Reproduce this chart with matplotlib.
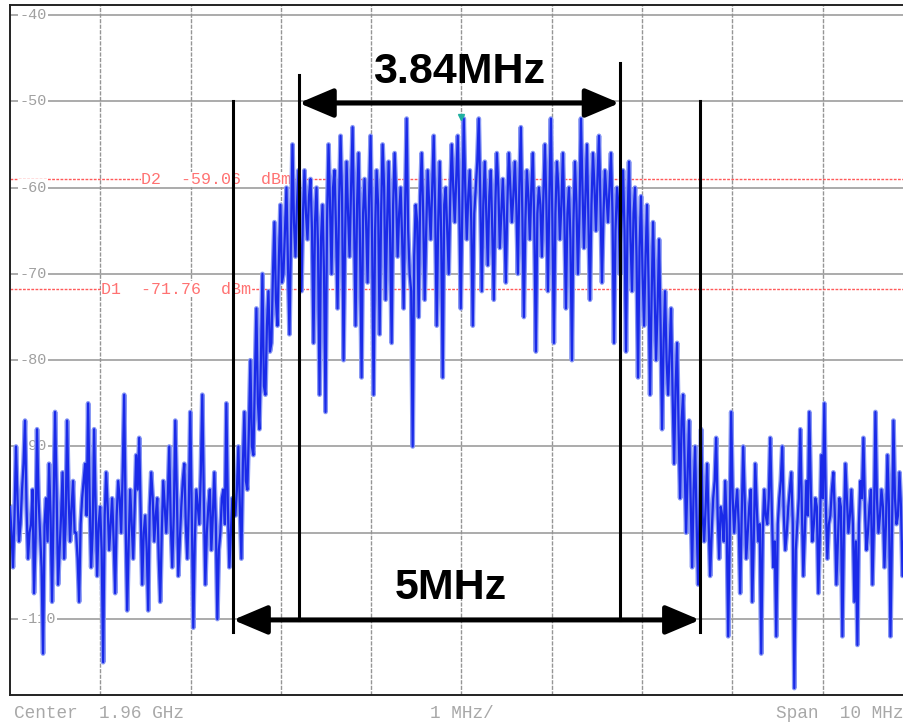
import numpy as np
import matplotlib
matplotlib.use("Agg")
import matplotlib.pyplot as plt
from matplotlib.patches import FancyArrowPatch

# ---- data ----
center_label = "Center  1.96 GHz"
div_label = "1 MHz/"
span_label = "Span  10 MHz"
y_ticks = [-40, -50, -60, -70, -80, -90, -100, -110]
d1_level = -71.76
d2_level = -59.06
d1_label = "D1  -71.76  dBm"
d2_label = "D2  -59.06  dBm"
peak_marker = (0.0, -51.8)

# trace levels (dBm), sweep points evenly spaced across the 10 MHz span
trace_left = [
    -97, -100, -104, -98, -90, -96, -101, -99, -95, -92, -87, -97, -103, -100, -99, -95, -107, -101, -88, -96,
    -100, -104, -114, -99, -96, -101, -92, -98, -108, -97, -86, -95, -106, -102, -98, -93, -103, -99, -87, -96,
    -101, -97, -94, -100, -100, -103, -108, -99, -96, -94, -92, -98, -85, -96, -104, -100, -88, -97, -105, -99,
    -97, -102, -115, -98, -93, -97, -102, -99, -96, -101, -107, -98, -94, -96, -100, -93, -84, -99, -109, -101,
    -95, -99, -103, -97, -91, -95, -89, -98, -106, -100, -98, -102, -109, -97, -93, -96, -101, -98, -96, -103,
    -108, -100, -94, -97, -100, -96, -90, -99, -104, -98, -87, -95, -105, -101, -97, -94, -92, -99, -103, -97,
    -86, -98, -111, -101, -95, -97, -99, -93, -84, -96, -106, -100, -97, -95, -102, -98, -93, -99, -110, -102,
    -100, -96, -95, -99, -85, -97, -104, -100, -96, -98,
]
trace_rise = [
    -98, -95, -90, -97, -103, -92, -86, -94, -95, -88, -80, -90, -91, -82, -74, -85, -88, -80, -70, -83,
    -84, -76, -72, -79, -78, -70, -64, -73, -76, -68, -62, -71, -70, -65, -60, -69, -77, -66, -55, -64,
    -68, -62, -58, -66, -72, -63,
]
trace_band = [
    -58, -63, -66, -61, -59, -65, -78, -64, -60, -67, -84, -66, -62, -70, -86, -64, -55, -62, -70, -60,
    -58, -65, -74, -62, -54, -61, -80, -66, -57, -63, -68, -60, -53, -64, -76, -62, -56, -67, -82, -63,
    -59, -64, -71, -61, -54, -66, -84, -65, -58, -62, -77, -63, -55, -60, -73, -64, -57, -66, -78, -62,
    -56, -61, -68, -63, -60, -66, -74, -62, -52, -65, -70, -72, -90, -68, -62, -64, -75, -61, -56, -63,
    -73, -65, -58, -62, -66, -60, -54, -63, -76, -64, -57, -66, -82, -62, -60, -65, -70, -61, -55, -60,
    -64, -59, -54, -62, -74, -63, -52, -60, -66, -61, -58, -64, -76, -63, -60, -57, -52, -61, -72, -62,
    -57, -63, -69, -61, -58, -65, -73, -62, -56, -60, -67, -63, -59, -64, -71, -62, -56, -60, -64, -61,
    -57, -62, -70, -60, -53, -63, -75, -64, -58, -61, -66, -60, -56, -65, -79, -63, -60, -62, -68, -61,
    -55, -62, -72, -61, -52, -64, -78, -63, -57, -60, -66, -62, -56, -64, -74, -63, -60, -66, -80, -64,
    -57, -62, -70, -63, -52, -60, -67, -61, -55, -64, -73, -62, -56, -60, -65, -59, -54, -62, -71, -63,
    -58, -61, -64, -60, -56, -63, -78, -65, -60, -62, -70, -64,
]
trace_fall = [
    -58, -65, -79, -64, -57, -66, -72, -63, -60, -68, -82, -67, -61, -70, -76, -68, -62, -71, -84, -73,
    -64, -72, -80, -74, -66, -76, -88, -78, -72, -80, -84, -79, -74, -84, -92, -83, -78, -88, -96, -87,
    -84, -92, -100, -93, -87, -96, -104, -95, -90, -99, -106, -97, -88, -98,
]
trace_right = [
    -101, -97, -92, -99, -105, -100, -96, -94, -89, -98, -103, -97, -98, -101, -94, -99, -112, -100, -86, -96,
    -100, -97, -95, -99, -107, -98, -90, -96, -103, -100, -97, -95, -108, -101, -92, -97, -101, -99, -114, -100,
    -95, -98, -99, -96, -89, -97, -104, -101, -112, -99, -96, -94, -90, -98, -102, -100, -97, -95, -93, -99,
    -118, -102, -99, -96, -88, -97, -105, -100, -94, -98, -86, -95, -101, -99, -96, -97, -107, -100, -91, -96,
    -85, -97, -103, -99, -98, -95, -93, -98, -106, -101, -96, -97, -112, -100, -92, -96, -100, -98, -95, -99,
    -108, -101, -113, -99, -94, -96, -89, -97, -102, -100, -97, -95, -106, -99, -86, -96, -100, -98, -95, -97,
    -104, -99, -91, -97, -112, -100, -87, -96, -99, -98, -93, -97, -105, -101, -96, -95, -101, -99, -94, -98,
]

# annotation markers (MHz offsets from center)
bw_outer = (-2.53, 2.64)   # 5 MHz channel
bw_inner = (-1.80, 1.75)   # 3.84 MHz occupied bandwidth
label_outer = "5MHz"
label_inner = "3.84MHz"

# ---- figure ----
W, H = 904, 726
fig = plt.figure(figsize=(W / 100, H / 100), dpi=100)
fig.patch.set_facecolor("white")
ax = fig.add_axes([10 / W, 31 / H, 903 / W, 690 / H])
ax.set_xlim(-5, 5)
ax.set_ylim(-118.8, -38.84)
ax.set_axisbelow(True)

for s in ax.spines.values():
    s.set_color("#222222")
    s.set_linewidth(1.4)
ax.set_xticks(np.arange(-4, 5, 1))
ax.set_yticks(y_ticks)
ax.tick_params(length=0, labelleft=False, labelbottom=False)
ax.yaxis.grid(True, color="#959595", linewidth=1.1, linestyle="-")
ax.xaxis.grid(True, color="#959595", linewidth=1.0, linestyle=(0, (3, 1)))

mono = "Liberation Mono"
for v in y_ticks:
    ax.text(-4.9, v, str(v), ha="left", va="center", fontsize=11,
            family=mono, color="#a0a0a0", zorder=1.6,
            bbox=dict(facecolor="white", edgecolor="none", pad=1.0))

# reference (delta) lines
for lvl, lab, xl in [(d2_level, d2_label, -3.55), (d1_level, d1_label, -3.99)]:
    ax.axhline(lvl, color="#ff5a5a", linewidth=1.0, linestyle=(0, (2, 1)), zorder=1.4)
    ax.text(xl, lvl, lab, ha="left", va="center", fontsize=12, family=mono,
            color="#ff7272", zorder=1.7,
            bbox=dict(facecolor="white", edgecolor="none", pad=0.3))

# trace
trace = np.array(trace_left + trace_rise + trace_band + trace_fall + trace_right, dtype=float)
freq = np.linspace(-5, 5, len(trace))
ax.plot(freq, trace, color="#8898f4", linewidth=3.4, zorder=2.5)
ax.plot(freq, trace, color="#1a2ae8", linewidth=1.6, zorder=2.6)
ax.plot([peak_marker[0]], [peak_marker[1]], marker="v", color="#20b0a0",
        markersize=5, zorder=2.8)

# bandwidth markers
ax.plot([bw_outer[0]] * 2, [-50.0, -111.5], color="black", linewidth=2.2, zorder=4)
ax.plot([bw_outer[1]] * 2, [-50.0, -111.5], color="black", linewidth=2.2, zorder=4)
ax.plot([bw_inner[0]] * 2, [-46.9, -110.1], color="black", linewidth=2.2, zorder=4)
ax.plot([bw_inner[1]] * 2, [-45.6, -110.1], color="black", linewidth=2.2, zorder=4)

for (x0, x1), yv in [(bw_inner, -50.2), (bw_outer, -110.1)]:
    arr = FancyArrowPatch((x0, yv), (x1, yv), arrowstyle="<|-|>,head_length=1.3,head_width=0.55",
                          mutation_scale=16, color="black", linewidth=3.6,
                          shrinkA=0, shrinkB=0, zorder=4.5)
    ax.add_patch(arr)

bold = dict(family="Liberation Sans", fontweight="bold", fontsize=31, color="black", zorder=5)
ax.text(-0.03, -46.6, label_inner, ha="center", va="center", **bold)
ax.text(-0.12, -106.4, label_outer, ha="center", va="center", **bold)

# footer texts
foot = dict(family=mono, fontsize=12.8, color="#a8a8a8", va="center")
fig.text(14 / W, 1 - 713 / H, center_label, ha="left", **foot)
fig.text(430 / W, 1 - 713 / H, div_label, ha="left", **foot)
fig.text(776 / W, 1 - 713 / H, span_label, ha="left", **foot)

fig.savefig("out.png", dpi=100, facecolor="white")
